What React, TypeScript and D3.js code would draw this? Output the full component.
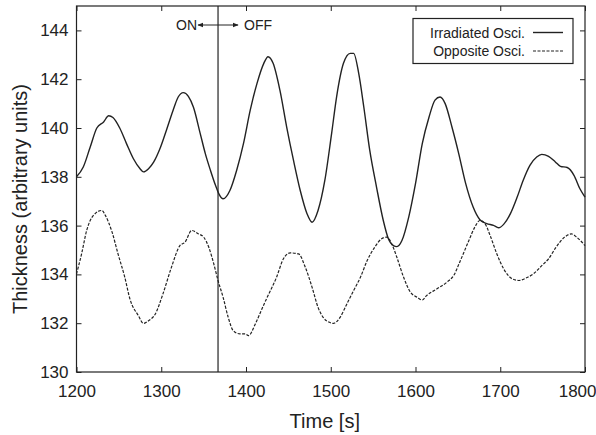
import React, { useRef, useEffect } from 'react';
import * as d3 from 'd3';

// Irradiated oscillator (solid)
const irrTime = [1200, 1208, 1216, 1224, 1232, 1238, 1243, 1251, 1259, 1267, 1275, 1279, 1285, 1291, 1299, 1306, 1314, 1320, 1326, 1332, 1338, 1346, 1352, 1358, 1364, 1368, 1373, 1381, 1389, 1397, 1405, 1413, 1421, 1426, 1432, 1440, 1448, 1456, 1464, 1472, 1478, 1485, 1493, 1501, 1507, 1515, 1523, 1527, 1533, 1539, 1546, 1554, 1562, 1568, 1574, 1578, 1584, 1592, 1600, 1608, 1616, 1623, 1629, 1635, 1643, 1651, 1659, 1668, 1676, 1684, 1692, 1698, 1704, 1712, 1720, 1727, 1735, 1743, 1749, 1757, 1765, 1771, 1779, 1787, 1794, 1800];
const irrValue = [138.0, 138.4, 139.2, 140.0, 140.25, 140.5, 140.43, 140.0, 139.36, 138.75, 138.33, 138.2, 138.33, 138.6, 139.2, 139.9, 140.73, 141.27, 141.45, 141.3, 140.85, 139.77, 138.95, 138.27, 137.65, 137.3, 137.1, 137.44, 138.27, 139.36, 140.73, 141.83, 142.65, 142.92, 142.65, 141.55, 140.04, 138.68, 137.44, 136.49, 136.14, 136.62, 137.85, 139.77, 141.3, 142.65, 143.06, 143.06, 142.24, 140.86, 139.09, 137.58, 136.21, 135.46, 135.18, 135.14, 135.39, 136.35, 137.72, 139.36, 140.45, 141.14, 141.27, 141.0, 140.04, 138.95, 137.75, 136.76, 136.24, 136.08, 136.01, 135.91, 136.05, 136.49, 137.17, 137.85, 138.47, 138.81, 138.92, 138.84, 138.61, 138.43, 138.38, 138.06, 137.51, 137.17];

// Opposite oscillator (dashed)
const oppTime = [1200, 1206, 1212, 1220, 1230, 1234, 1242, 1249, 1257, 1263, 1273, 1279, 1285, 1293, 1302, 1312, 1322, 1328, 1336, 1344, 1350, 1356, 1362, 1367, 1373, 1379, 1385, 1393, 1399, 1403, 1411, 1419, 1425, 1436, 1444, 1452, 1462, 1470, 1478, 1485, 1491, 1499, 1503, 1511, 1519, 1527, 1535, 1543, 1552, 1560, 1566, 1572, 1578, 1586, 1594, 1602, 1608, 1613, 1625, 1637, 1645, 1653, 1663, 1670, 1676, 1682, 1688, 1696, 1704, 1714, 1722, 1731, 1739, 1749, 1757, 1766, 1776, 1784, 1790, 1800];
const oppValue = [134.02, 134.84, 135.8, 136.42, 136.62, 136.42, 135.73, 134.84, 133.88, 133.0, 132.31, 131.99, 132.1, 132.38, 133.2, 134.29, 135.18, 135.32, 135.8, 135.66, 135.53, 135.12, 134.43, 133.75, 133.06, 132.24, 131.69, 131.56, 131.56, 131.49, 131.97, 132.6, 133.06, 133.88, 134.63, 134.88, 134.84, 134.29, 133.47, 132.65, 132.24, 132.03, 131.99, 132.24, 132.79, 133.34, 133.88, 134.57, 135.12, 135.46, 135.53, 135.25, 134.7, 133.88, 133.27, 133.06, 132.95, 133.13, 133.4, 133.68, 133.95, 134.57, 135.39, 135.94, 136.21, 136.08, 135.6, 134.84, 134.23, 133.82, 133.75, 133.86, 134.02, 134.36, 134.64, 135.12, 135.53, 135.66, 135.53, 135.18];

const xTicks = [1200, 1300, 1400, 1500, 1600, 1700, 1800];
const yTicks = [130, 132, 134, 136, 138, 140, 142, 144];
const switchTime = 1367;
const legendLabels = ['Irradiated Osci.', 'Opposite Osci.'];

const FONT = '"Liberation Sans", Arial, Helvetica, sans-serif';
const INK = '#222';

const App = () => {
  const ref = useRef<SVGSVGElement>(null);

  useEffect(() => {
    const svg = d3.select(ref.current);
    svg.selectAll('*').remove();

    const margin = { top: 6, right: 11, bottom: 63, left: 76.5 };
    const width = 596 - margin.left - margin.right;
    const height = 435 - margin.top - margin.bottom;
    const g = svg.append('g').attr('transform', `translate(${margin.left},${margin.top})`);

    const x = d3.scaleLinear().domain([1200, 1800]).range([0, width]);
    const y = d3.scaleLinear().domain([130, 145]).range([height, 0]);

    // axes, ticks pointing inward
    const styleAxis = (sel: any) => {
      sel.select('.domain').remove();
      sel.selectAll('line').attr('stroke', INK);
      sel.selectAll('text').attr('font-family', FONT).attr('font-size', 17).attr('fill', INK);
    };
    const xAxis = g.append('g').attr('transform', `translate(0,${height})`)
      .call(d3.axisBottom(x).tickValues(xTicks).tickFormat(d3.format('d')).tickSize(-5).tickPadding(13))
      .call(styleAxis);
    // last label sits flush with the right edge, as in the original
    xAxis.selectAll('text')
      .filter((d: any) => d === 1800)
      .attr('text-anchor', 'end')
      .attr('x', margin.right);
    g.append('g')
      .call(d3.axisLeft(y).tickValues(yTicks).tickFormat(d3.format('d')).tickSize(-5).tickPadding(8))
      .call(styleAxis);
    g.append('g')
      .call(d3.axisTop(x).tickValues(xTicks).tickFormat(() => '').tickSize(-5))
      .call(styleAxis);
    g.append('g').attr('transform', `translate(${width},0)`)
      .call(d3.axisRight(y).tickValues(yTicks).tickFormat(() => '').tickSize(-5))
      .call(styleAxis);

    g.append('rect')
      .attr('width', width).attr('height', height)
      .attr('fill', 'none').attr('stroke', INK).attr('stroke-width', 1.2);

    const line = d3.line<[number, number]>()
      .x(d => x(d[0]))
      .y(d => y(d[1]))
      .curve(d3.curveMonotoneX);

    g.append('path')
      .datum(d3.zip(oppTime, oppValue) as [number, number][])
      .attr('fill', 'none')
      .attr('stroke', INK)
      .attr('stroke-width', 1.2)
      .attr('stroke-dasharray', '3,1.5')
      .attr('d', line);

    g.append('path')
      .datum(d3.zip(irrTime, irrValue) as [number, number][])
      .attr('fill', 'none')
      .attr('stroke', INK)
      .attr('stroke-width', 1.4)
      .attr('d', line);

    // ON / OFF switch marker
    const sx = x(switchTime);
    g.append('line')
      .attr('x1', sx).attr('x2', sx).attr('y1', 0).attr('y2', height)
      .attr('stroke', INK).attr('stroke-width', 1.2);

    const defs = svg.append('defs');
    defs.append('marker')
      .attr('id', 'arrow')
      .attr('viewBox', '0 0 10 10')
      .attr('refX', 9).attr('refY', 5)
      .attr('markerWidth', 6).attr('markerHeight', 6)
      .attr('markerUnits', 'userSpaceOnUse')
      .attr('orient', 'auto-start-reverse')
      .append('path').attr('d', 'M0,1 L10,5 L0,9 Z').attr('fill', INK);

    g.append('line')
      .attr('x1', sx - 20).attr('x2', sx + 20).attr('y1', 19).attr('y2', 19)
      .attr('stroke', INK).attr('stroke-width', 1)
      .attr('marker-start', 'url(#arrow)').attr('marker-end', 'url(#arrow)');
    g.append('text').attr('x', sx - 21).attr('y', 24)
      .attr('text-anchor', 'end').attr('font-family', FONT).attr('font-size', 14).attr('fill', INK)
      .text('ON');
    g.append('text').attr('x', sx + 26).attr('y', 24)
      .attr('font-family', FONT).attr('font-size', 14).attr('fill', INK)
      .text('OFF');

    // legend
    const lg = svg.append('g').attr('transform', 'translate(413,18.5)');
    lg.append('rect').attr('width', 160).attr('height', 45)
      .attr('fill', '#fff').attr('stroke', INK).attr('stroke-width', 1.2);
    legendLabels.forEach((label, i) => {
      const yy = 14 + i * 18.5;
      lg.append('text').attr('x', 112).attr('y', yy + 5)
        .attr('text-anchor', 'end').attr('font-family', FONT).attr('font-size', 14).attr('fill', INK)
        .text(label);
      lg.append('line').attr('x1', 120).attr('x2', 150).attr('y1', yy).attr('y2', yy)
        .attr('stroke', INK).attr('stroke-width', i === 0 ? 1.4 : 1.2)
        .attr('stroke-dasharray', i === 0 ? null : '3,1.5');
    });

    // axis titles
    svg.append('text')
      .attr('x', margin.left + width / 2 - 6).attr('y', 428)
      .attr('text-anchor', 'middle').attr('font-family', FONT).attr('font-size', 20).attr('fill', INK)
      .text('Time [s]');
    svg.append('text')
      .attr('transform', `translate(27,${margin.top + height / 2 + 10}) rotate(-90)`)
      .attr('text-anchor', 'middle').attr('font-family', FONT).attr('font-size', 20).attr('fill', INK)
      .text('Thickness (arbitrary units)');
  }, []);

  return (
    <svg ref={ref} width="596" height="435" style={{ position: 'absolute', left: 0, top: 0, background: '#fff' }}></svg>
  );
};

export default App;
